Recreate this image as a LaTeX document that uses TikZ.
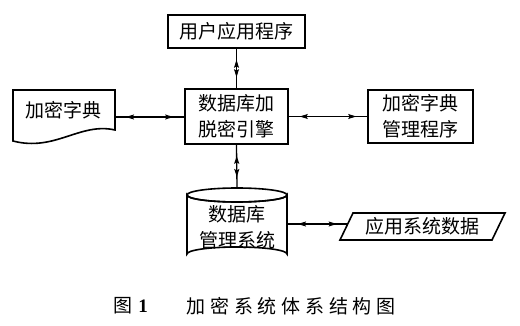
\documentclass[tikz,border=0pt]{standalone}
\usepackage{fontspec}
\setmainfont{Noto Sans CJK SC}
\newfontfamily\latserif{Liberation Serif}
\usetikzlibrary{arrows.meta,decorations.markings}
\tikzset{
  txt/.style={inner sep=0pt, font=\fontsize{19}{26}\selectfont, align=center},
  box/.style={txt, draw, line width=1.6pt},
  shp/.style={draw, line width=1.6pt, line join=miter},
  tipA/.tip={Stealth[length=8pt,width=5pt,inset=1.5pt]},
  link/.style={line width=1.3pt, postaction={decorate}, decoration={markings,
    mark=at position 11pt with {\arrowreversed{tipA}},
    mark=at position -11pt with {\arrow{tipA}}}},
}
\begin{document}
\begin{tikzpicture}[x=1pt,y=-1pt]
\useasboundingbox (0,0) rectangle (520,326);
% boxes
\node[box, minimum width=137pt, minimum height=33pt] (app) at (236.5,31.5) {用户应用程序};
\node[box, minimum width=103pt, minimum height=55pt] (eng) at (236.5,116.5) {数据库加\\脱密引擎};
\node[box, minimum width=105pt, minimum height=53pt] (mgr) at (420.5,116.5) {加密字典\\管理程序};
% document shape
\draw[shp] (13,90) -- (115,90) -- (115,130)
  .. controls (80,122) and (55,152) .. (13,141) -- cycle;
\node[txt] (dict) at (63.5,110) {加密字典};
\coordinate (dictE) at (115,117);
% cylinder
\draw[shp] (187,195) -- (187,254) arc[start angle=180,end angle=360,x radius=50,y radius=7]
  -- (287,195) arc[start angle=0,end angle=180,x radius=50,y radius=7] -- cycle;
\draw[shp] (237,195) ellipse[x radius=50,y radius=7];
\node[txt] (dbms) at (237,227) {数据库\\管理系统};
\coordinate (dbT) at (237,188);
\coordinate (dbE) at (287,224);
% parallelogram
\draw[shp] (353,213) -- (505,213) -- (492,240) -- (340,240) -- cycle;
\node[txt] (data) at (422,226.5) {应用系统数据};
\coordinate (dataW) at (347.7,224);
% connectors
\draw[link] (app.south) -- (eng.north);
\draw[link] (dictE) -- (eng.west |- dictE);
\draw[link] (eng.east) -- (mgr.west);
\draw[link] (eng.south) -- (dbT);
\draw[link] (dbE) -- (dataW);
% caption
\node[txt] (capA) at (123,306) {图};
\node[inner sep=0pt, font=\fontsize{19}{22}\latserif\bfseries] (capB) at (143,306) {1};
\node[txt, font=\fontsize{19}{22}\selectfont\addfontfeature{LetterSpace=25}] (capC) at (291,306) {加密系统体系结构图};
\end{tikzpicture}
\end{document}
